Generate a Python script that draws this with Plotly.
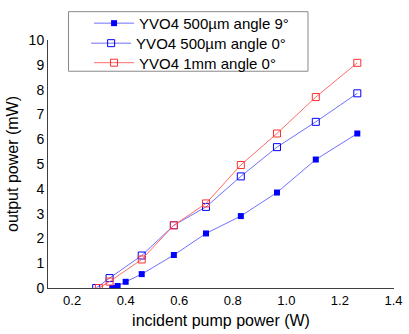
import plotly.graph_objects as go

x_9deg = [0.35, 0.37, 0.40, 0.46, 0.58, 0.70, 0.83, 0.965, 1.11, 1.265]
y_9deg = [0.0, 0.08, 0.25, 0.56, 1.33, 2.2, 2.9, 3.85, 5.18, 6.23]

x_0deg = [0.29, 0.34, 0.46, 0.58, 0.70, 0.83, 0.965, 1.11, 1.265]
y_0deg = [0.0, 0.4, 1.31, 2.53, 3.27, 4.5, 5.68, 6.7, 7.85]

x_1mm = [0.30, 0.34, 0.46, 0.58, 0.70, 0.83, 0.965, 1.11, 1.265]
y_1mm = [0.0, 0.26, 1.15, 2.53, 3.41, 4.96, 6.23, 7.7, 9.08]

names = ["YVO4 500µm angle 9°", "YVO4 500µm angle 0°", "YVO4 1mm angle 0°"]
x_ticks = [0.2, 0.4, 0.6, 0.8, 1.0, 1.2, 1.4]
x_tick_labels = ["0.2", "0.4", "0.6", "0.8", "1.0", "1.2", "1.4"]
y_ticks = list(range(0, 11))

W, H = 409, 334
ML, MR, MT, MB = 48, 7, 37, 43
PW, PH = W - ML - MR, H - MT - MB

def px_x(p):
    return (p - ML) / PW

def px_y(p):
    return 1 - (p - MT) / PH

fig = go.Figure()
fig.add_trace(go.Scatter(x=x_9deg, y=y_9deg, name=names[0], mode="lines+markers",
                         line=dict(color="#7070ff", width=1), legend="legend",
                         marker=dict(symbol="square", size=6, color="#0000ff")))
fig.add_trace(go.Scatter(x=x_0deg, y=y_0deg, name=names[1], mode="lines+markers",
                         line=dict(color="#7070ff", width=1), legend="legend2",
                         marker=dict(symbol="square-open", size=7, color="#0000ff", line=dict(width=1))))
fig.add_trace(go.Scatter(x=x_1mm, y=y_1mm, name=names[2], mode="lines+markers",
                         line=dict(color="#ff6a6a", width=1), legend="legend3",
                         marker=dict(symbol="square-open", size=7, color="#ff3030", line=dict(width=1))))

fig.add_shape(type="rect", xref="paper", yref="paper",
              x0=px_x(69), x1=px_x(314), y0=px_y(69), y1=px_y(8),
              line=dict(color="#8a8a8a", width=1), fillcolor="white", layer="below")

def leg(xp, yp):
    return dict(x=px_x(xp), y=px_y(yp), xanchor="left", yanchor="middle",
                borderwidth=0, bgcolor="rgba(0,0,0,0)",
                font=dict(size=15), tracegroupgap=0, itemwidth=40)

fig.update_layout(
    width=W, height=H,
    margin=dict(l=ML, r=MR, t=MT, b=MB),
    paper_bgcolor="white", plot_bgcolor="rgba(0,0,0,0)",
    font=dict(family="Liberation Sans, Arial", size=13, color="black"),
    showlegend=True,
    legend=leg(90, 20),
    legend2=leg(87, 40.5),
    legend3=leg(90, 60.5),
    xaxis=dict(range=[0.11, 1.402], tickvals=x_ticks, ticktext=x_tick_labels,
               showgrid=False, zeroline=False, showline=True, linecolor="#404040",
               linewidth=1, ticks="", ticklabeloverflow="allow",
               title=dict(text="incident pump power (W)", standoff=8),
               tickfont=dict(size=13)),
    yaxis=dict(range=[0, 10], tickvals=y_ticks, showgrid=False, zeroline=False,
               showline=True, linecolor="#404040", linewidth=1, ticks="",
               title=dict(text="output power (mW)", standoff=6),
               tickfont=dict(size=14)),
)

fig.write_html("out.html")
